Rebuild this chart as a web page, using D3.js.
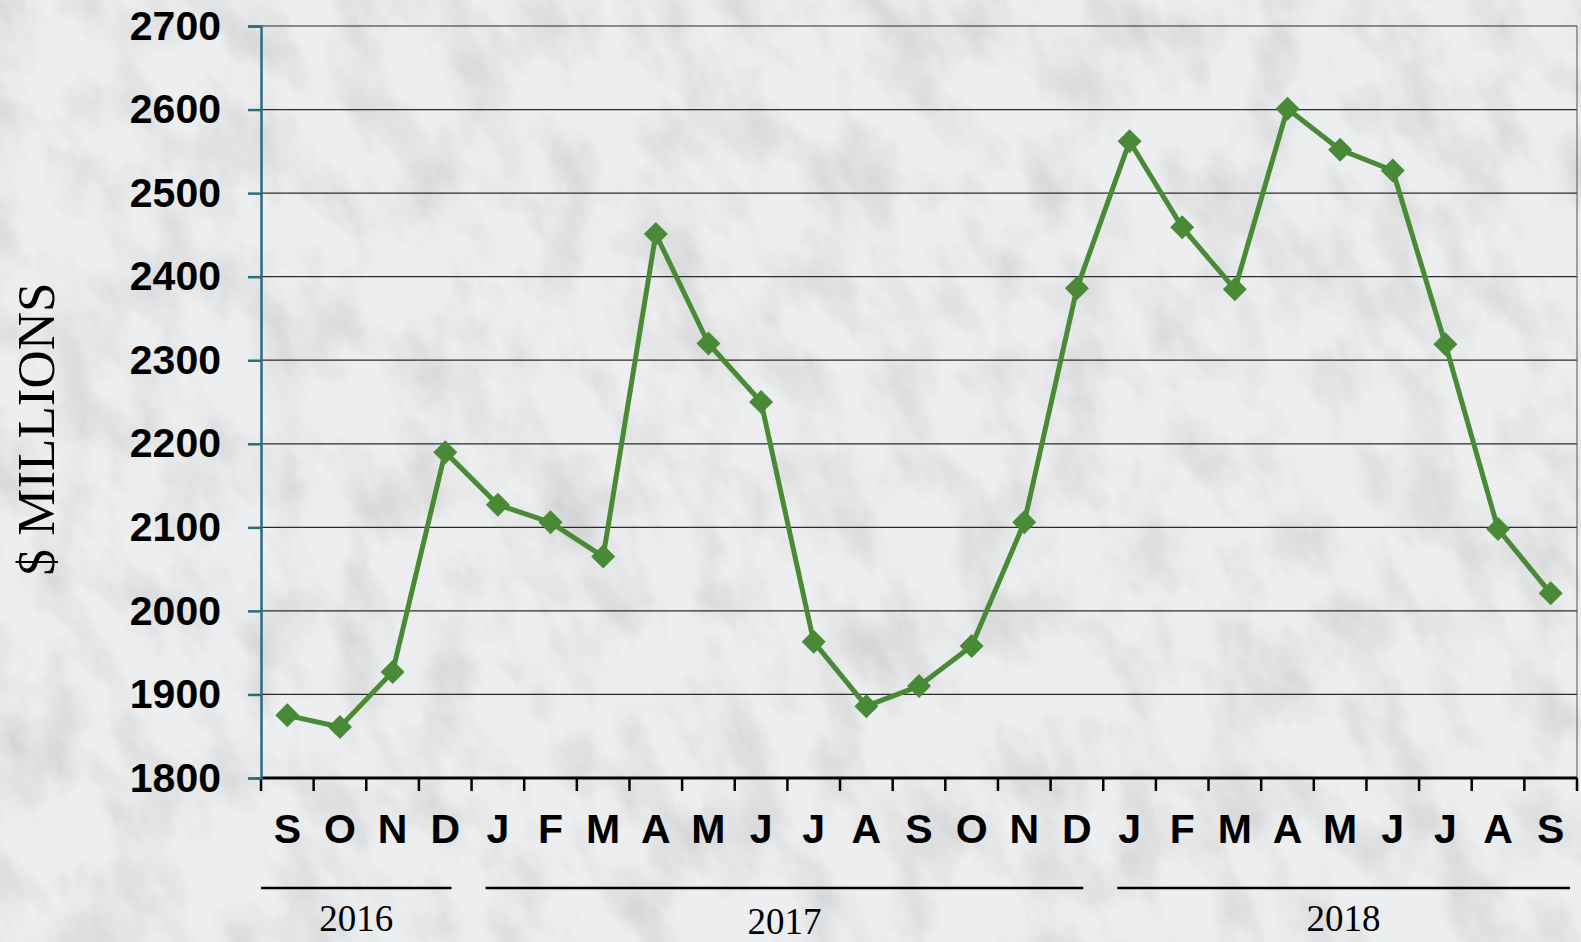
<!DOCTYPE html>
<html>
<head>
<meta charset="utf-8">
<script src="https://cdn.jsdelivr.net/npm/d3@7"></script>
<style>
  body { margin: 0; background: #e9eaeb; }
  svg { display: block; }
</style>
</head>
<body>
<div id="chart"></div>
<script>
// months Sep 2016 .. Sep 2018
const months = ["S","O","N","D","J","F","M","A","M","J","J","A","S","O","N","D","J","F","M","A","M","J","J","A","S"];
const values = [1875, 1861, 1927, 2190, 2127, 2106, 2065, 2451, 2320, 2250, 1963, 1886, 1910, 1958, 2106, 2386, 2562, 2459, 2385, 2601, 2552, 2527, 2319, 2098, 2021];
const yTicks = [1800, 1900, 2000, 2100, 2200, 2300, 2400, 2500, 2600, 2700];
const years = ["2016", "2017", "2018"];
const yearStart = [0, 4, 16];
const yearEnd = [3, 15, 24];

var width = 1581;
var height = 942;
var margin = { top: 26, right: 4, bottom: 164, left: 261 };

const svg = d3.select("#chart")
  .append("svg")
  .attr("width", width)
  .attr("height", height);

// marble-ish background
var defs = svg.append("defs");
var filt = defs.append("filter").attr("id", "marble")
  .attr("x", 0).attr("y", 0).attr("width", 1).attr("height", 1);
filt.append("feTurbulence")
  .attr("type", "fractalNoise")
  .attr("baseFrequency", "0.02 0.011")
  .attr("numOctaves", 6)
  .attr("seed", 11);
filt.append("feColorMatrix")
  .attr("type", "matrix")
  .attr("values", "0 0 0 0 0.52  0 0 0 0 0.53  0 0 0 0 0.55  1.1 0 0 0 -0.45");

svg.append("rect").attr("width", width).attr("height", height).attr("fill", "#edeeef");
svg.append("g")
  .attr("transform", "rotate(-25 790 471)")
  .append("rect")
  .attr("x", -500).attr("y", -600)
  .attr("width", 2600).attr("height", 2200)
  .attr("filter", "url(#marble)");

// scales
var x = d3.scaleBand()
  .domain(d3.range(months.length))
  .range([margin.left, width - margin.right]);

var y = d3.scaleLinear()
  .domain([1800, 2700])
  .range([height - margin.bottom, margin.top]);

// grid lines
svg.append("g")
  .selectAll("line")
  .data(yTicks.slice(1))
  .join("line")
  .attr("x1", margin.left)
  .attr("x2", width - margin.right)
  .attr("y1", (d) => y(d))
  .attr("y2", (d) => y(d))
  .attr("stroke", "#2b2b2b")
  .attr("stroke-width", 1.2);

// right border
svg.append("line")
  .attr("x1", width - margin.right).attr("x2", width - margin.right)
  .attr("y1", margin.top).attr("y2", height - margin.bottom)
  .attr("stroke", "#555").attr("stroke-width", 1);

// y axis
var yAxis = (g) =>
  g
    .attr("transform", `translate(${margin.left},0)`)
    .call(d3.axisLeft(y).tickValues(yTicks).tickSize(13).tickPadding(27).tickFormat(d3.format("d")))
    .call((g) => g.select(".domain").attr("stroke", "#2a6e7e").attr("stroke-width", 2.5))
    .call((g) => g.selectAll(".tick line").attr("stroke", "#2a6e7e").attr("stroke-width", 2.5))
    .call((g) =>
      g.selectAll(".tick text")
        .attr("fill", "#000")
        .attr("font-family", "'Liberation Sans', Arial, sans-serif")
        .attr("font-weight", "bold")
        .attr("font-size", 41)
    );

// x axis (ticks on band edges)
var edges = d3.range(months.length + 1).map((i) => margin.left + i * x.bandwidth());
var xg = svg.append("g");
xg.append("line")
  .attr("x1", margin.left).attr("x2", width - margin.right)
  .attr("y1", y(1800)).attr("y2", y(1800))
  .attr("stroke", "#000").attr("stroke-width", 3);
xg.selectAll(".xt")
  .data(edges)
  .join("line")
  .attr("class", "xt")
  .attr("x1", (d) => d).attr("x2", (d) => d)
  .attr("y1", y(1800)).attr("y2", y(1800) + 13)
  .attr("stroke", "#000").attr("stroke-width", 2.5);

xg.selectAll(".ml")
  .data(months)
  .join("text")
  .attr("class", "ml")
  .attr("x", (d, i) => x(i) + x.bandwidth() / 2)
  .attr("y", 843)
  .attr("text-anchor", "middle")
  .attr("font-family", "'Liberation Sans', Arial, sans-serif")
  .attr("font-weight", "bold")
  .attr("font-size", 41)
  .attr("fill", "#000")
  .text((d) => d);

svg.append("g").call(yAxis);

// year groups
var yg = svg.append("g");
years.forEach((yr, i) => {
  var x0 = x(yearStart[i]) + (i === 0 ? 0 : 14);
  var x1 = x(yearEnd[i]) + x.bandwidth() - (i === 2 ? 7 : 20);
  yg.append("line")
    .attr("x1", x0).attr("x2", x1)
    .attr("y1", 888).attr("y2", 888)
    .attr("stroke", "#000").attr("stroke-width", 2.5);
  yg.append("text")
    .attr("x", (x0 + x1) / 2)
    .attr("y", i === 1 ? 934 : 931)
    .attr("text-anchor", "middle")
    .attr("font-family", "'Liberation Serif', 'Times New Roman', serif")
    .attr("font-size", 37)
    .attr("fill", "#000")
    .text(yr);
});

// y axis label
svg.append("text")
  .attr("transform", "translate(54,429) rotate(-90)")
  .attr("text-anchor", "middle")
  .attr("font-family", "'Liberation Serif', 'Times New Roman', serif")
  .attr("font-size", 53)
  .attr("fill", "#000")
  .text("$ MILLIONS");

// line + markers
var line = d3.line()
  .x((d, i) => x(i) + x.bandwidth() / 2)
  .y((d) => y(d));

svg.append("path")
  .datum(values)
  .attr("fill", "none")
  .attr("stroke", "#488a35")
  .attr("stroke-width", 5)
  .attr("stroke-linejoin", "round")
  .attr("d", line);

svg.append("g")
  .selectAll("path")
  .data(values)
  .join("path")
  .attr("transform", (d, i) => `translate(${x(i) + x.bandwidth() / 2},${y(d)})`)
  .attr("d", "M0,-12L12,0L0,12L-12,0Z")
  .attr("fill", "#488a35");
</script>
</body>
</html>
